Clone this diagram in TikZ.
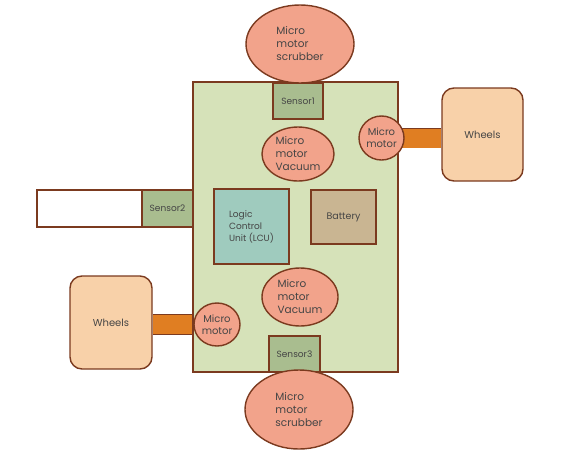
\documentclass[tikz,border=0pt]{standalone}
\usepackage{fontspec}
\setmainfont{Poppins}
\usepackage{tikz}
\usetikzlibrary{shapes.geometric,positioning,backgrounds}
\definecolor{marron}{HTML}{7B3A1F}
\definecolor{placaverde}{HTML}{D6E2B9}
\definecolor{salmon}{HTML}{F2A38B}
\definecolor{durazno}{HTML}{F8D1A9}
\definecolor{naranja}{HTML}{E07E22}
\definecolor{sensorverde}{HTML}{A9BD8F}
\definecolor{turquesa}{HTML}{9FCBBE}
\definecolor{tostado}{HTML}{C9B592}
\definecolor{texto}{HTML}{454545}
\tikzset{
  base/.style={draw=marron,line width=1.4pt,text=texto,inner sep=0pt},
  placa/.style={base,fill=placaverde},
  motorgrande/.style={base,ellipse,fill=salmon,align=left,font=\fontsize{10.5}{13}\selectfont},
  motorchico/.style={base,ellipse,fill=salmon,align=center,font=\fontsize{10}{12}\selectfont},
  sensorcaja/.style={base,fill=sensorverde,font=\fontsize{9}{11}\selectfont},
  rueda/.style={base,fill=durazno,rounded corners=12pt,font=\fontsize{10}{12}\selectfont},
  eje/.style={draw=marron,line width=0.8pt,double=naranja,double distance=19pt},
}
\begin{document}
\begin{tikzpicture}[x=1pt,y=-1pt]
  \useasboundingbox (0,0) rectangle (562,453);
  % cuerpo
  \node[placa,minimum width=205pt,minimum height=290pt] (placa) at (295.5,227) {};
  \node[base,fill=white,minimum width=156pt,minimum height=37pt] (barra) at (115,208.5) {};
  \node[sensorcaja,minimum width=51pt,minimum height=37pt] (sen2) at (167.5,208.5) {Sensor2};
  \node[sensorcaja,minimum width=50pt,minimum height=36pt] (sen1) at (298,101) {Sensor1};
  \node[sensorcaja,minimum width=51pt,minimum height=36pt] (sen3) at (294.5,354) {Sensor3};
  \node[base,fill=turquesa,minimum width=75pt,minimum height=75pt,align=left,font=\fontsize{9}{12}\selectfont] (lcu) at (251.5,226.5) {Logic\\Control\\Unit (LCU)};
  \node[base,fill=tostado,minimum width=65pt,minimum height=54pt,font=\fontsize{9.5}{11}\selectfont] (bat) at (343.5,217) {Battery};
  % motores
  \node[motorgrande,minimum width=108pt,minimum height=78pt] (scrubsup) at (300,44) {Micro\\motor\\scrubber};
  \node[motorgrande,minimum width=108pt,minimum height=79pt] (scrubinf) at (299,409.5) {Micro\\motor\\scrubber};
  \node[motorgrande,minimum width=72pt,minimum height=54pt] (vacsup) at (298,154) {Micro\\motor\\Vacuum};
  \node[motorgrande,minimum width=76pt,minimum height=58pt] (vacinf) at (300,297) {Micro\\motor\\Vacuum};
  \node[motorchico,minimum width=45pt,minimum height=44pt] (mder) at (381.5,138) {Micro\\motor};
  \node[motorchico,minimum width=46pt,minimum height=43pt] (mizq) at (217,324.5) {Micro\\motor};
  % ruedas
  \node[rueda,minimum width=81pt,minimum height=93pt] (ruedader) at (482.5,134.5) {Wheels};
  \node[rueda,minimum width=82pt,minimum height=93pt] (ruedaizq) at (111,322.5) {Wheels};
  \begin{scope}[on background layer]
    \draw[eje] (mder.center) -- (mder.center -| ruedader.west);
    \draw[eje] (mizq.center) -- (mizq.center -| ruedaizq.east);
  \end{scope}
\end{tikzpicture}
\end{document}
